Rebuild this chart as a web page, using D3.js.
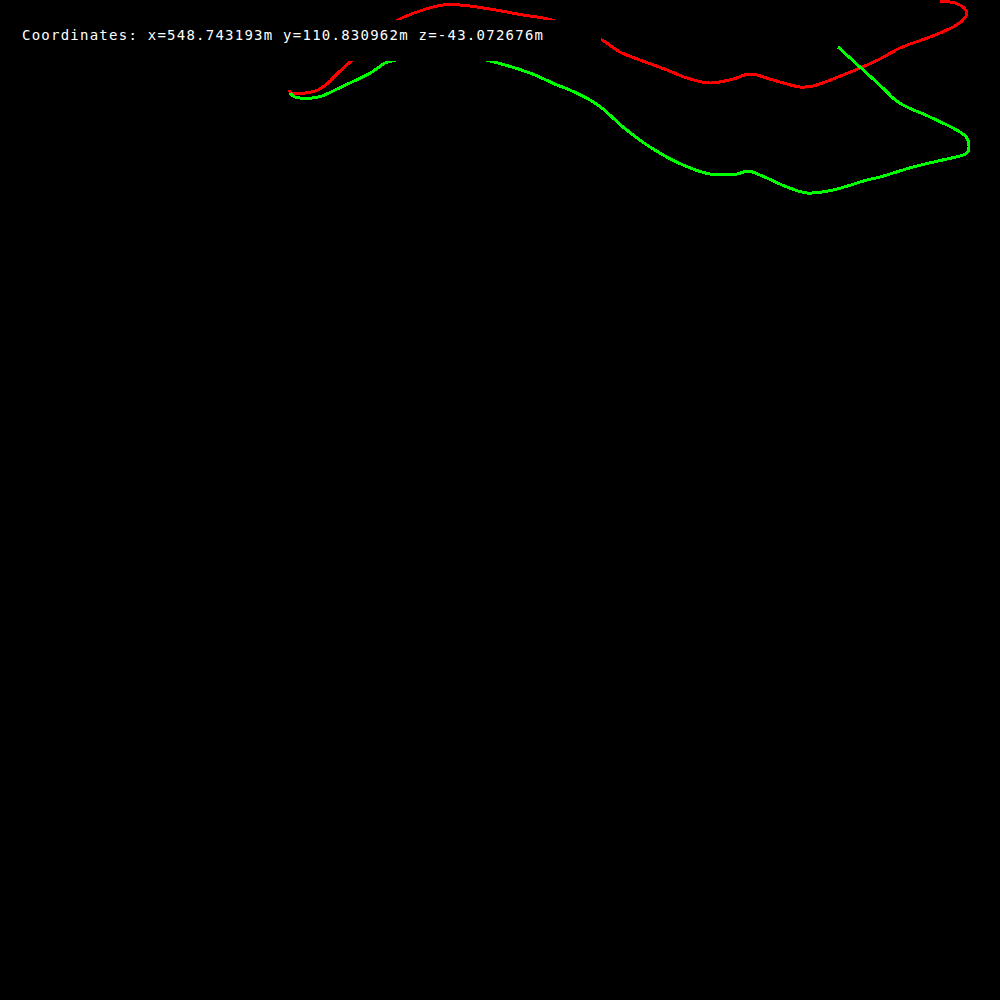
<!DOCTYPE html>
<html>
<head>
<meta charset="utf-8">
<script src="https://cdn.jsdelivr.net/npm/d3@7/dist/d3.min.js"></script>
<style>
html,body{margin:0;padding:0;background:#000;overflow:hidden;}
svg{display:block;}
</style>
</head>
<body>
<script>
// Trajectory A (red) — planar position samples (view units)
const redX = [289,292,305,318,328,338,350,362,380,400,423,443,460,490,523,548,575,602,620,640,667,687,710,733,750,773,800,813,833,860,880,900,930,953,963,967,963,955,940];
const redY = [90,93,93,90,83,73,62,49,32,19,10,5,5,9,15,19,28,40,52,60,70,78,83,79,74,80,87,86,79,68,59,48,37,27,20,13,7,3,1];
// Trajectory B (green)
const greenX = [290,295,312,322,335,352,372,385,392,420,455,490,530,557,570,590,602,623,650,683,710,737,748,760,787,807,833,867,880,913,947,960,967,969,967,960,930,903,893,885,860,838];
const greenY = [93,97,98,96,90,82,72,63,61,54,54,61,73,85,90,100,108,127,147,165,174,174,171,175,187,193,190,180,177,167,159,156,153,147,138,132,117,105,98,90,67,47];
// Readout
const coordLabel = "Coordinates: x=548.743193m y=110.830962m z=-43.072676m";

const W = 1000, H = 1000;
const x = d3.scaleLinear().domain([0, 1000]).range([0, W]);
const y = d3.scaleLinear().domain([0, 1000]).range([0, H]);

const svg = d3.select("body").append("svg").attr("width", W).attr("height", H);
svg.append("rect").attr("width", W).attr("height", H).attr("fill", "#000");

const line = d3.line().x(d => x(d[0])).y(d => y(d[1])).curve(d3.curveCatmullRom.alpha(0.5));

const series = [
  {xs: redX, ys: redY, color: "#ff0000"},
  {xs: greenX, ys: greenY, color: "#00ff00"}
];
svg.selectAll("path.traj").data(series).join("path")
  .attr("class", "traj")
  .attr("d", s => line(s.xs.map((v, i) => [v, s.ys[i]])))
  .attr("fill", "none")
  .attr("stroke", s => s.color)
  .attr("stroke-width", 3)
  .attr("stroke-linejoin", "round")
  .attr("stroke-linecap", "butt")
  .attr("shape-rendering", "crispEdges");

// label background box
svg.append("rect").attr("x", 0).attr("y", 20).attr("width", 601).attr("height", 41).attr("fill", "#000");

svg.append("text")
  .attr("x", 22).attr("y", 40)
  .attr("fill", "#fff")
  .attr("font-family", "'DejaVu Sans Mono', 'Liberation Mono', monospace")
  .attr("font-size", 14)
  .attr("textLength", 521)
  .attr("lengthAdjust", "spacing")
  .text(coordLabel);
</script>
</body>
</html>
